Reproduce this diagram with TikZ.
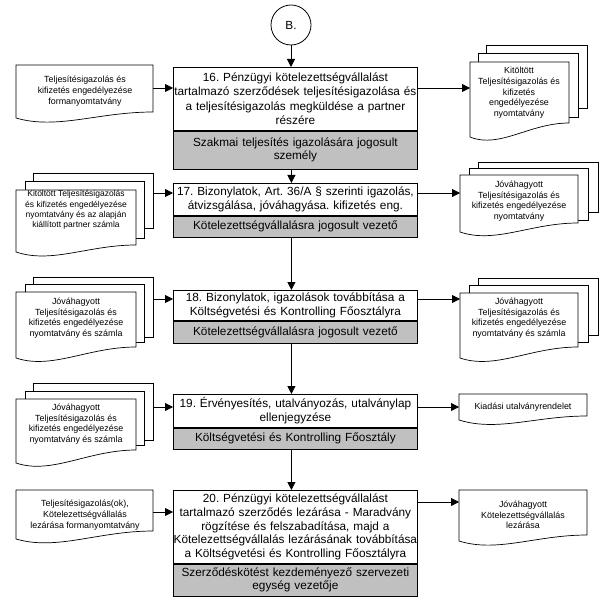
\documentclass[tikz,border=0pt]{standalone}
\usepackage{fontspec}
\setmainfont{Liberation Sans}
\usetikzlibrary{arrows.meta}
\frenchspacing
\definecolor{boxgray}{RGB}{192,192,192}
\newcommand\docfront[5]{%
  \filldraw[page] (#1,#2) -- (#3,#2) -- (#3,#5)
    .. controls ({#1+0.6*(#3-#1)},#5) and ({#1+0.3*(#3-#1)},{#4+12}) .. (#1,#4) -- cycle;}
\newcommand\docback[4]{%
  \filldraw[page] (#1,#2) rectangle (#3,#4);}
\begin{document}
\begin{tikzpicture}[x=1pt,y=-1pt,
  arr/.style={-{Triangle[length=8pt,width=8pt]}, line width=0.8pt},
  boxtop/.style={draw, line width=0.8pt, fill=white, minimum width=244pt, inner sep=0pt,
    text width=244pt, align=center, font=\fontsize{11.8}{14.4}\selectfont\frenchspacing, anchor=north west},
  boxbot/.style={draw, line width=0.8pt, fill=boxgray, minimum width=244pt, inner sep=0pt,
    text width=244pt, align=center, font=\fontsize{11.8}{13.2}\selectfont\frenchspacing, anchor=north},
  doctext/.style={align=center, font=\fontsize{8.9}{10.7}\selectfont\frenchspacing, inner sep=0pt},
  page/.style={draw, fill=white, line width=0.7pt},
]
\useasboundingbox (0,0) rectangle (607,609);

% connector circle
\node[draw, circle, minimum size=40pt, line width=0.8pt, font=\fontsize{11.8}{14}\selectfont] (B) at (291,25) {B.};

% main boxes
\node[boxtop, minimum height=63pt] (b16) at (173,67) {16. Pénzügyi kötelezettségvállalást\\tartalmazó szerződések teljesítésigazolása és\\a teljesítésigazolás megküldése a partner\\részére};
\node[boxbot, minimum height=38pt] (g16) at (b16.south) {Szakmai teljesítés igazolására jogosult\\személy};

\node[boxtop, minimum height=32pt] (b17) at (173,183) {17. Bizonylatok, Art. 36/A § szerinti igazolás,\\átvizsgálása, jóváhagyása. kifizetés eng.};
\node[boxbot, minimum height=21pt] (g17) at (b17.south) {Kötelezettségvállalásra jogosult vezető};

\node[boxtop, minimum height=30pt] (b18) at (173,290) {18. Bizonylatok, igazolások továbbítása a\\Költségvetési és Kontrolling Főosztályra};
\node[boxbot, minimum height=22pt] (g18) at (b18.south) {Kötelezettségvállalásra jogosult vezető};

\node[boxtop, minimum height=33pt] (b19) at (173,394) {19. Érvényesítés, utalványozás, utalványlap\\ellenjegyzése};
\node[boxbot, minimum height=21pt] (g19) at (b19.south) {Költségvetési és Kontrolling Főosztály};

\node[boxtop, minimum height=73pt, font=\fontsize{11.8}{13.8}\selectfont\frenchspacing] (b20) at (173,490) {20. Pénzügyi kötelezettségvállalást\\tartalmazó szerződés lezárása - Maradvány\\rögzítése és felszabadítása, majd a\\Kötelezettségvállalás lezárásának továbbítása\\a Költségvetési és Kontrolling Főosztályra};
\node[boxbot, minimum height=32pt] (g20) at (b20.south) {Szerződéskötést kezdeményező szervezeti\\egység vezetője};

% vertical connectors
\draw[arr] (B.south) -- (B.south |- b16.north);
\draw[arr] ([xshift=-4pt]g16.south) -- ([xshift=-4pt]b17.north);
\draw[arr] ([xshift=-4pt]g17.south) -- ([xshift=-4pt]b18.north);
\draw[arr] ([xshift=-4pt]g18.south) -- ([xshift=-4pt]b19.north);
\draw[arr] ([xshift=-4pt]g19.south) -- ([xshift=-4pt]b20.north);

% ---- documents, left ----
\docfront{16}{65}{153}{118}{112}
\node[doctext] (tL1) at (85,91) {Teljesítésigazolás és\\kifizetés engedélyezése\\formanyomtatvány};
\coordinate (L1e) at (153,88);

\docback{33}{173}{153}{228}
\docback{25}{181}{144}{238}
\docfront{16}{190}{136}{252}{245}
\node[doctext, font=\fontsize{8.5}{10.4}\selectfont] (tL2) at (76,210) {Kitöltött Teljesítésigazolás\\és kifizetés engedélyezése\\nyomtatvány és az alapján\\kiállított partner számla};
\coordinate (L2e) at (153,193);

\docback{33}{277}{153}{337}
\docback{25}{284}{144}{342}
\docfront{16}{292}{136}{358}{347}
\node[doctext] (tL3) at (76,318) {Jóváhagyott\\Teljesítésigazolás és\\kifizetés engedélyezése\\nyomtatvány és számla};
\coordinate (L3e) at (153,299);

\docback{33}{383}{153}{440}
\docback{25}{391}{144}{445}
\docfront{16}{399}{136}{463}{450}
\node[doctext] (tL4) at (76,424) {Jóváhagyott\\Teljesítésigazolás és\\kifizetés engedélyezése\\nyomtatvány és számla};
\coordinate (L4e) at (153,407);

\docfront{16}{490}{153}{539}{531}
\node[doctext] (tL5) at (85,515) {Teljesítésigazolás(ok),\\Kötelezettségvállalás\\lezárása formanyomtatvány};
\coordinate (L5e) at (153,512);

% ---- documents, right ----
\docback{486}{45}{587}{108}
\docback{478}{53}{578}{117}
\docfront{470}{62}{569}{137}{123}
\node[doctext] (tR1) at (519,93) {Kitöltött\\Teljesítésigazolás és\\kifizetés\\engedélyezése\\nyomtatvány};
\coordinate (R1w) at (470,88);

\docback{478}{162}{598}{212}
\docback{469}{168}{588}{220}
\docfront{460}{175}{578}{232}{223}
\node[doctext] (tR2) at (519,201) {Jóváhagyott\\Teljesítésigazolás és\\kifizetés engedélyezése\\nyomtatvány};
\coordinate (R2w) at (460,193);

\docback{478}{278}{598}{335}
\docback{469}{285}{588}{342}
\docfront{460}{293}{578}{358}{347}
\node[doctext] (tR3) at (519,318) {Jóváhagyott\\Teljesítésigazolás és\\kifizetés engedélyezése\\nyomtatvány és számla};
\coordinate (R3w) at (460,299);

\docfront{459}{394}{587}{420}{416}
\node[doctext] (tR4) at (523,407) {Kiadási utalványrendelet};
\coordinate (R4w) at (459,407);

\docfront{459}{490}{587}{541}{535}
\node[doctext] (tR5) at (523,515) {Jóváhagyott\\Kötelezettségvállalás\\lezárása};
\coordinate (R5w) at (459,502);

% horizontal connectors
\draw[arr] (L1e) -- (L1e -| b16.west);
\draw[arr] (L2e) -- (L2e -| b17.west);
\draw[arr] (L3e) -- (L3e -| b18.west);
\draw[arr] (L4e) -- (L4e -| b19.west);
\draw[arr] (L5e) -- (L5e -| b20.west);
\draw[arr] (R1w -| b16.east) -- (R1w);
\draw[arr] (R2w -| b17.east) -- (R2w);
\draw[arr] (R3w -| b18.east) -- (R3w);
\draw[arr] (R4w -| b19.east) -- (R4w);
\draw[arr] (R5w -| b20.east) -- (R5w);
\end{tikzpicture}
\end{document}
